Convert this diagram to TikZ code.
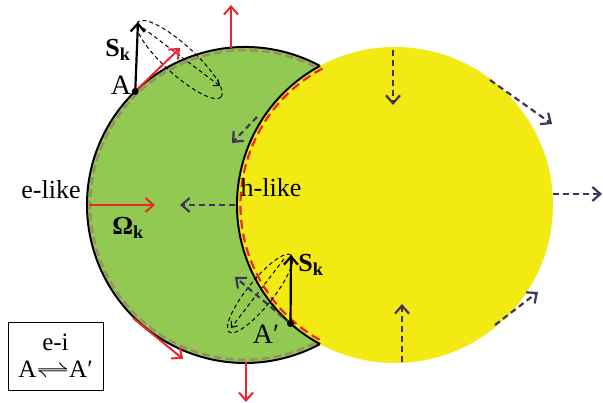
\documentclass[tikz,border=0pt]{standalone}
\usepackage{fontspec}
\setmainfont{Liberation Serif}
\usetikzlibrary{arrows.meta,calc}

\definecolor{bandgreen}{RGB}{146,201,82}
\definecolor{bandyellow}{RGB}{242,234,18}
\definecolor{velred}{RGB}{232,38,44}
\definecolor{holeblue}{RGB}{62,52,92}
\definecolor{rimgray}{RGB}{155,140,105}

\tikzset{
  redvel/.style={velred, line width=2pt, ->},
  holevel/.style={holeblue, line width=2.2pt, dash pattern=on 6pt off 4pt, ->},
  spinvec/.style={black, line width=2.2pt, ->},
  cone/.style={black, line width=1pt, dash pattern=on 4pt off 3pt},
  lbl/.style={font=\fontsize{26}{30}\selectfont},
}

\begin{document}
\begin{tikzpicture}[x=1pt, y=1pt, >={Straight Barb[length=8pt,width=14pt]}, line join=round]
        \useasboundingbox (0,0) rectangle (603,403);
        % 两个费米面 (圆心)
        \coordinate (G) at (245,198);
        \coordinate (Y) at (395,198);
        \fill[bandgreen] (G) circle (158);
        \fill[bandyellow] (Y) circle (158);

        % 轮廓
        \draw[line width=2pt] ($(G)+(61.7:158)$) arc (61.7:298.3:158);
        \draw[line width=2pt] ($(Y)+(118.3:158)$) arc (118.3:241.7:158);
        \draw[rimgray, line width=2.4pt, dash pattern=on 8pt off 4pt] ($(G)+(63:154.8)$) arc (63:297:154.8);
        \draw[velred, line width=2.2pt, dash pattern=on 9pt off 5pt] ($(Y)+(118:154.5)$) arc (118:242:154.5);

        % 点 A 与 A'
        \coordinate (A) at ($(G)+(134:158)$);
        \coordinate (A2) at ($(Y)+(228.6:158)$);

        % 进动锥 (A 处)
        \coordinate (Ac) at (179.5,343.5);
        \draw[cone, rotate around={-42.1:(Ac)}] (Ac) ellipse (56 and 15);
        \draw[cone, ->, >={Straight Barb[length=5pt,width=8pt]}] (143,375) -- (220,317);
        % 进动锥 (A' 处)
        \coordinate (A2c) at (260,109.5);
        \draw[cone, rotate around={51.2:(A2c)}] (A2c) ellipse (49.4 and 13);
        \draw[cone, ->, >={Straight Barb[length=5pt,width=8pt]}] (284,144) -- (231,75);

        % 自旋 S_k
        \coordinate (S1) at (138,381);
        \coordinate (S2) at (291,148);
        \draw[spinvec] (A) -- (S1);
        \draw[spinvec] (A2) -- (S2);

        % 红色速度箭头 (e-like)
        \coordinate (R1) at (231,355);
        \coordinate (R1e) at (231,398);
        \coordinate (RA) at (180,355);
        \coordinate (R3) at (89,198);
        \coordinate (R3e) at (155,198);
        \coordinate (R4) at (133,85);
        \coordinate (R4e) at (183,44);
        \coordinate (R5) at (246,41);
        \coordinate (R5e) at (246,1);
        \draw[redvel] (R1) -- (R1e);
        \draw[redvel] (A) -- (RA);
        \draw[redvel] (R3) -- (R3e);
        \draw[redvel] (R4) -- (R4e);
        \draw[redvel] (R5) -- (R5e);

        % 虚线速度箭头 (h-like)
        \draw[holevel] (257,286) -- (232,260);
        \draw[holevel] (235,198) -- (180,198);
        \draw[holevel] (A2) -- (235,126);
        \draw[holevel] (393,353) -- (393,298);
        \draw[holevel] (490,323) -- (552,279);
        \draw[holevel] (553,209) -- (602,209);
        \draw[holevel] (495,78) -- (538,111);
        \draw[holevel] (402,41) -- (402,99);

        \fill (A) circle (3.5pt);
        \fill (A2) circle (3.5pt);

        % 标注
        \node[lbl] (elike) at (51,213) {e-like};
        \node[lbl] (hlike) at (271,215) {h-like};
        \node[lbl] (omg) at (128,175) {\bfseries Ω\textsubscript{k}};
        \node[lbl] (sk1) at (118,353) {\bfseries S\textsubscript{k}};
        \node[lbl] (sk2) at (311,138) {\bfseries S\textsubscript{k}};
        \node[font=\fontsize{28}{32}\selectfont] (la) at (121,318) {A};
        \node[font=\fontsize{28}{32}\selectfont] (la2) at (266,69) {A′};
        \node[draw, line width=0.8pt, minimum width=95, minimum height=68, align=center, inner sep=2pt,
              font=\fontsize{25}{27}\selectfont] (box) at (55.5,47)
              {e-i\\A\scalebox{1.35}[1]{$\rightleftharpoons$}A′};
\end{tikzpicture}
\end{document}
